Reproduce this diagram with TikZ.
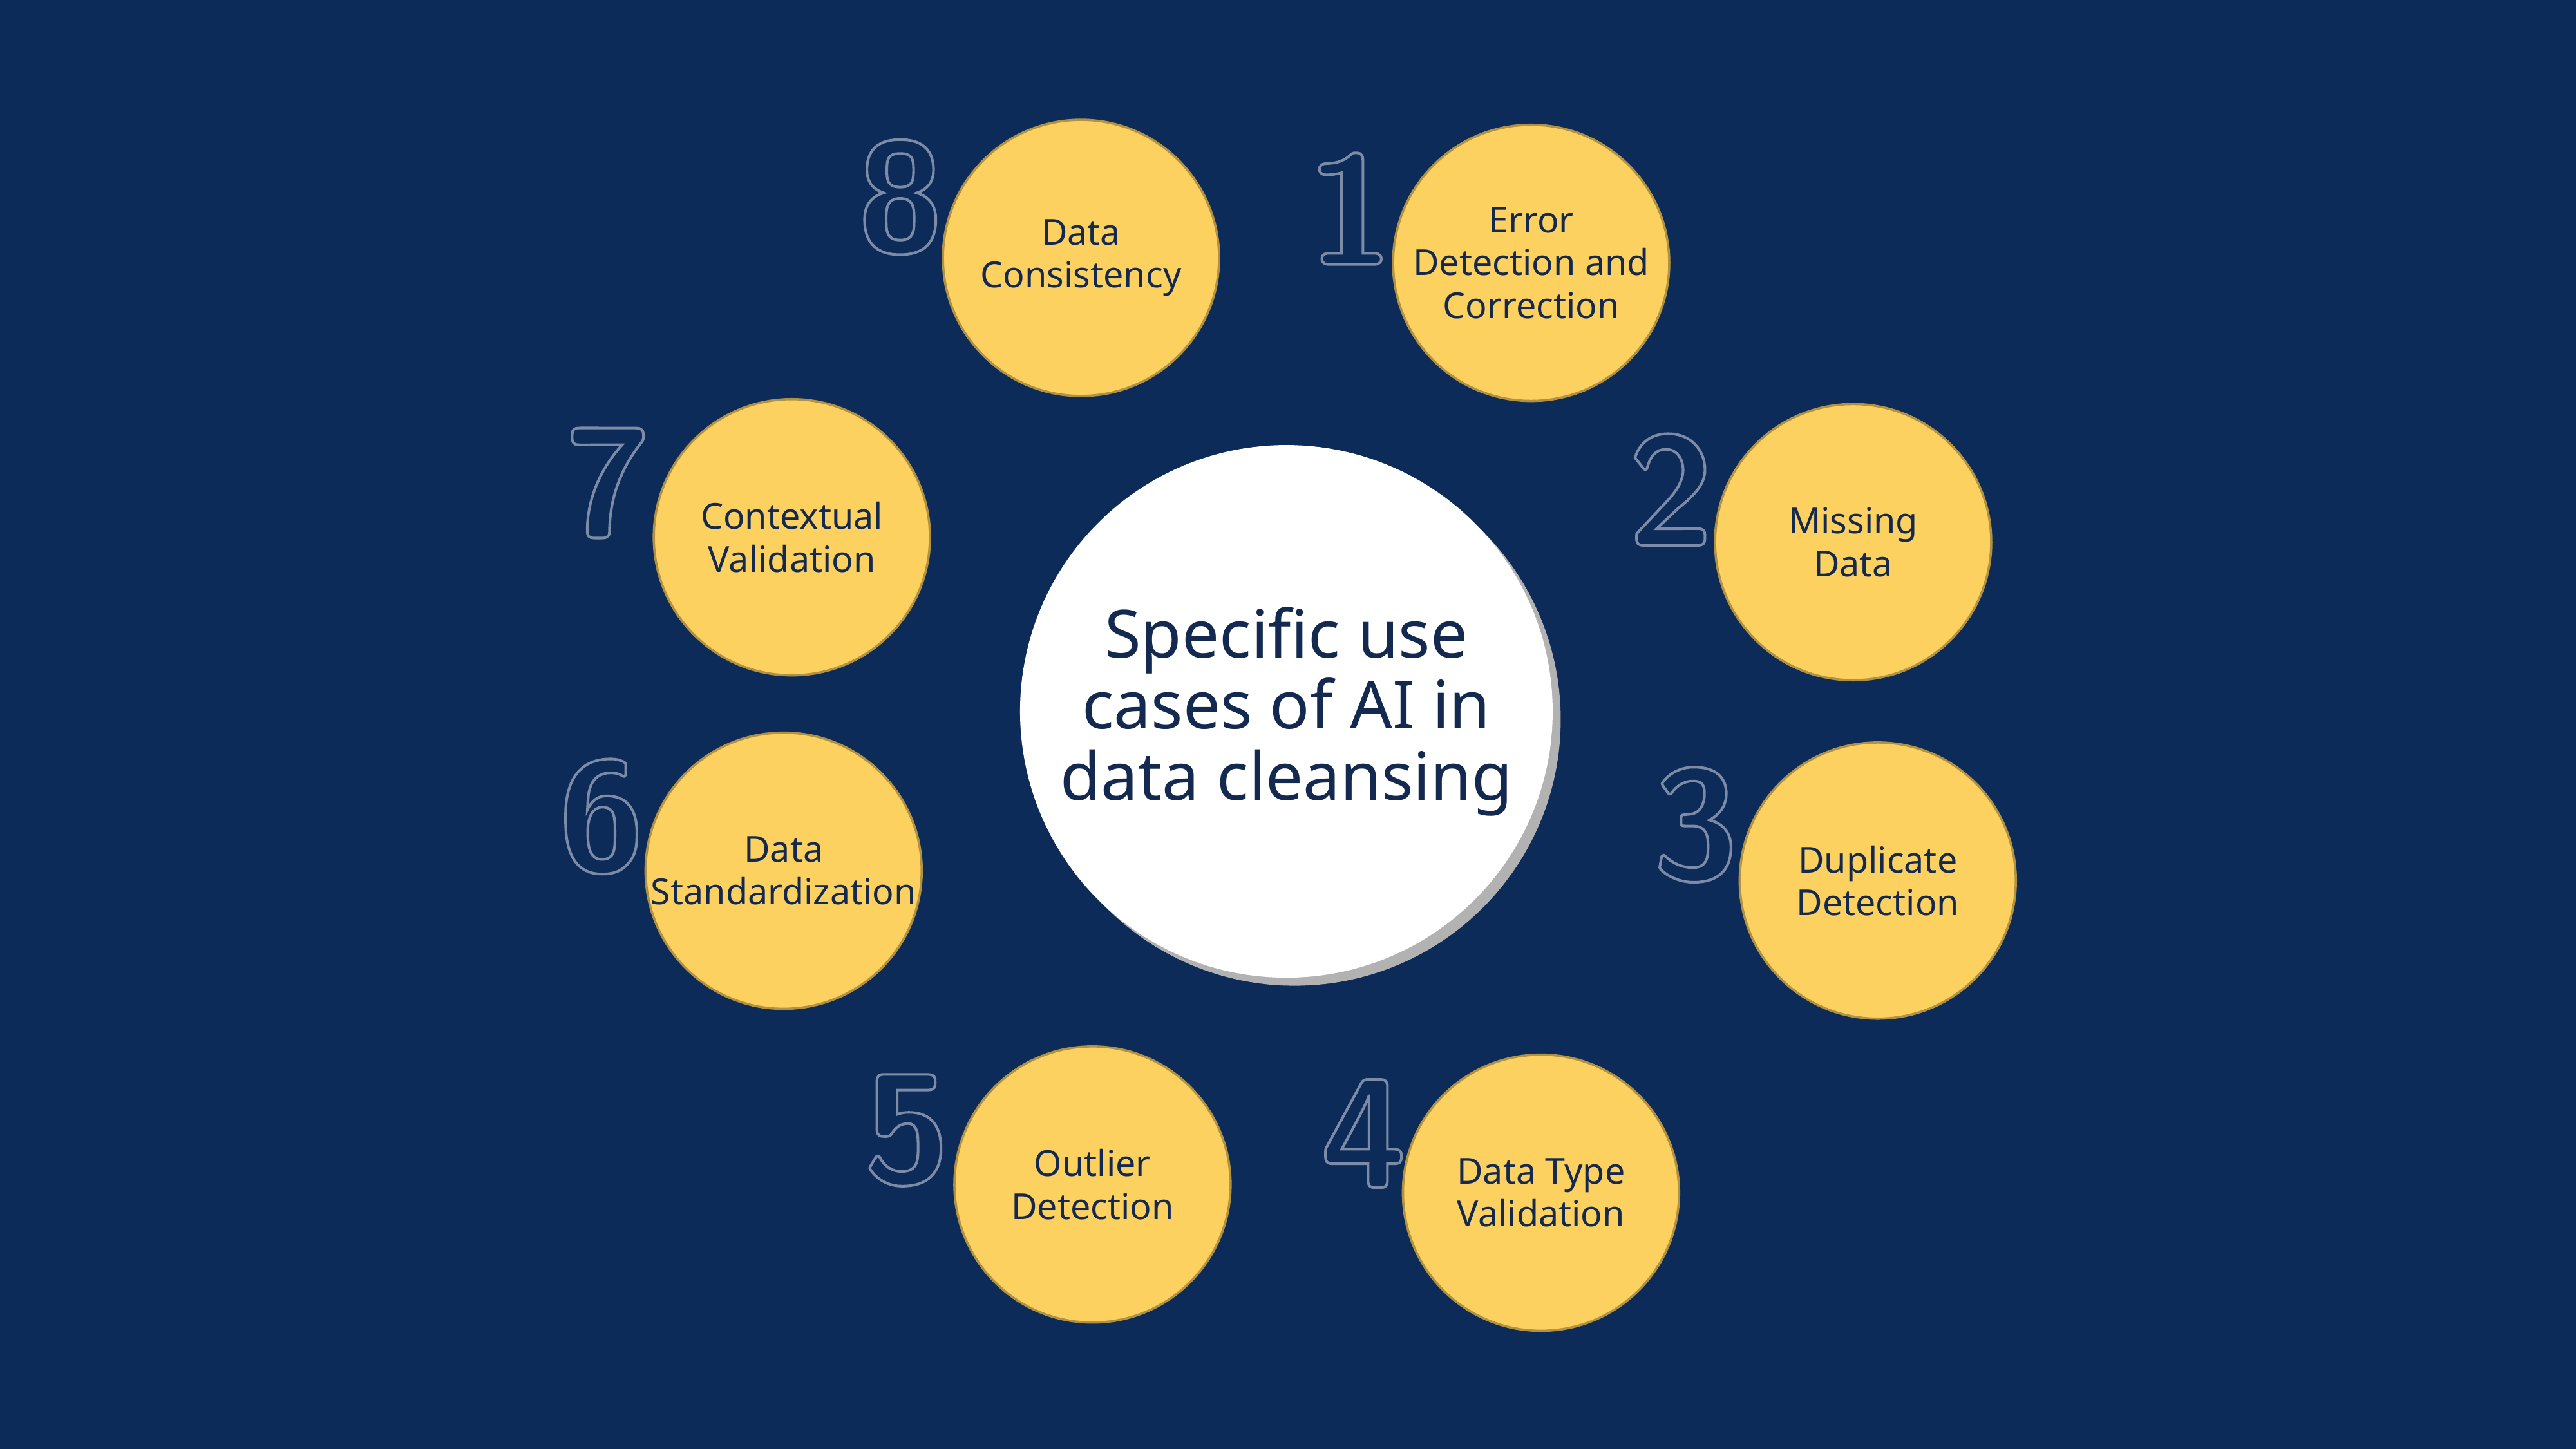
\documentclass[tikz,border=0pt]{standalone}
\usepackage{fontspec}
\setmainfont{Noto Sans}
\usetikzlibrary{shadows}
\definecolor{bg}{HTML}{0D2B59}
\definecolor{yel}{HTML}{FDD160}
\definecolor{ink}{HTML}{13294F}
\definecolor{dig}{HTML}{7D8CA6}
\newcommand{\outl}[1]{\special{pdf:literal direct 1 Tr 0.45 w}#1\special{pdf:literal direct 0 Tr}}
\tikzset{
  yc/.style={circle,fill=yel,draw=yel!70!black,line width=0.4pt,minimum size=1.68cm,inner sep=0pt,align=center,text=ink,font=\fontsize{6.2}{7.4}\selectfont},
  num/.style={text=dig,font=\fontsize{27}{27}\sffamily\bfseries\selectfont,inner sep=0pt},
}
\begin{document}
\begin{tikzpicture}[x=0.01cm,y=-0.01cm]
\fill[bg] (0,0) rectangle (1568,882);
\useasboundingbox (0,0) rectangle (1568,882);
\foreach \n/\x/\y in {8/548/120,1/822/127,2/1017/298,7/370/294,6/366/497,3/1032/502,5/552/688,4/830/690}{
  \node[num] (d\n) at (\x,\y) {\outl{\n}};
}
\fill[gray!60] (788,438) circle (162);
\node[circle,fill=white,minimum size=3.24cm,inner sep=0pt,align=center,text=ink,font=\fontsize{11.5}{12.3}\bfseries\selectfont] (c) at (783,433) {Specific use\\cases of AI in\\data cleansing};
\node[yc] (n8) at (658,157) {Data\\Consistency};
\node[yc] (n1) at (932,160) {Error\\Detection and\\Correction};
\node[yc] (n2) at (1128,330) {Missing\\Data};
\node[yc] (n7) at (482,327) {Contextual\\Validation};
\node[yc] (n6) at (477,530) {Data\\Standardization};
\node[yc] (n3) at (1143,536) {Duplicate\\Detection};
\node[yc] (n5) at (665,721) {Outlier\\Detection};
\node[yc] (n4) at (938,726) {Data Type\\Validation};
\end{tikzpicture}
\end{document}
